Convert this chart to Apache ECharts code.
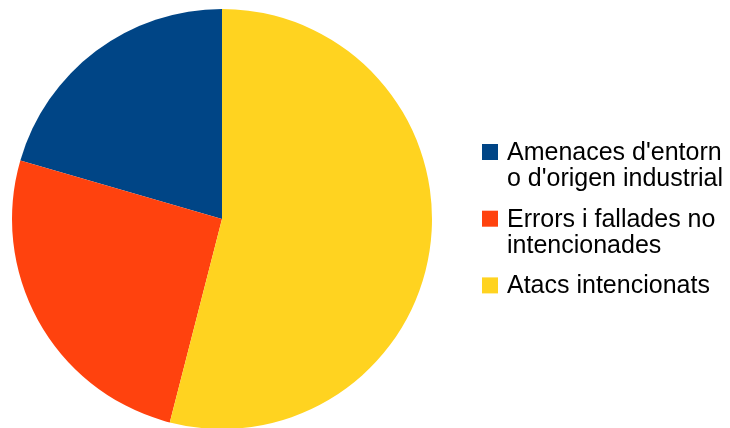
<!DOCTYPE html>
<html>
<head>
<meta charset="utf-8">
<script src="https://cdn.jsdelivr.net/npm/echarts@6/dist/echarts.min.js"></script>
<style>
  html, body { margin: 0; padding: 0; background: #ffffff; }
  #chart { width: 730px; height: 428px; }
</style>
</head>
<body>
<div id="chart"></div>
<script>
// Categories, shares (%) and slice colours
const categories = [
  "Amenaces d'entorn o d'origen industrial",
  "Errors i fallades no intencionades",
  "Atacs intencionats"
];
// Wrapped legend text; every entry keeps two line slots so the items stack evenly
const legendLines = [
  ["Amenaces d'entorn", "o d'origen industrial"],
  ["Errors i fallades no", "intencionades"],
  ["Atacs intencionats", ""]
];
const values = [20.5, 25.5, 54.0];
const colors = ['#004586', '#ff420e', '#ffd320'];

// Legend icon: a 16px square beside the first text line of a 20x52 box (move-tos pin the box size)
const squareIcon = 'path://M0,0M20,52M0,4h16v16h-16z';

const chart = echarts.init(document.getElementById('chart'), null, { renderer: 'canvas' });

chart.setOption({
  animation: false,
  backgroundColor: '#ffffff',
  color: colors,
  legend: {
    orient: 'vertical',
    left: 482,
    top: 140,
    padding: 0,
    itemWidth: 20,
    itemHeight: 52,
    itemGap: 14.7,
    selectedMode: false,
    icon: squareIcon,
    textStyle: {
      fontFamily: 'Liberation Sans',
      fontSize: 25,
      lineHeight: 26,
      color: '#000000'
    },
    data: categories,
    formatter: function (name) {
      return legendLines[categories.indexOf(name)].join('\n');
    }
  },
  series: [{
    type: 'pie',
    center: [222, 219],
    radius: [0, 210],
    startAngle: 90,
    clockwise: false,
    avoidLabelOverlap: false,
    label: { show: false },
    labelLine: { show: false },
    itemStyle: { borderWidth: 0, borderRadius: 0 },
    emphasis: { disabled: true },
    data: categories.map((name, i) => ({ name: name, value: values[i] }))
  }]
});
</script>
</body>
</html>
